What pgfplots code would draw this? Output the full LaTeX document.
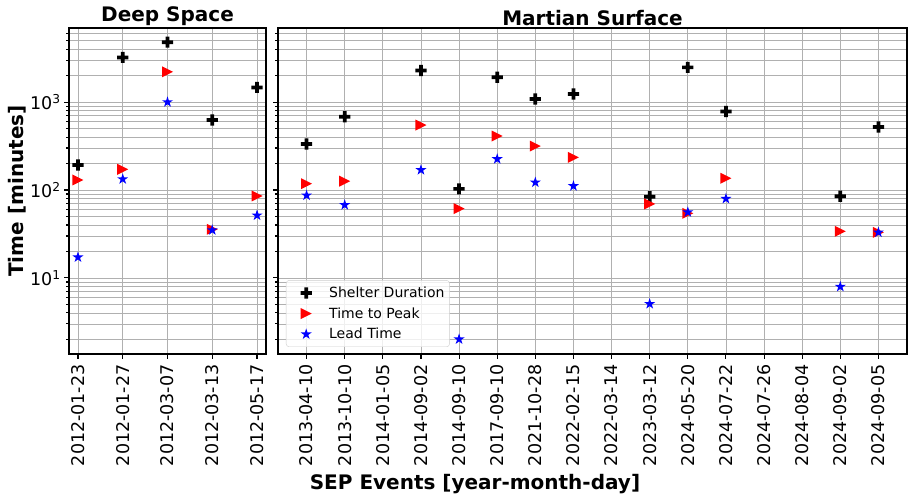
\documentclass[border=0pt]{standalone}
\usepackage{fontspec}
\setmainfont{DejaVu Sans}
\usepackage{pgfplots}
\pgfplotsset{compat=1.18}

\definecolor{gridgray}{RGB}{176,176,176}
\definecolor{legframe}{RGB}{204,204,204}

% filled plus, like matplotlib "P"
\pgfdeclareplotmark{fatplus}{%
  \pgfpathmoveto{\pgfpoint{-\pgfplotmarksize/3}{\pgfplotmarksize}}%
  \pgfpathlineto{\pgfpoint{\pgfplotmarksize/3}{\pgfplotmarksize}}%
  \pgfpathlineto{\pgfpoint{\pgfplotmarksize/3}{\pgfplotmarksize/3}}%
  \pgfpathlineto{\pgfpoint{\pgfplotmarksize}{\pgfplotmarksize/3}}%
  \pgfpathlineto{\pgfpoint{\pgfplotmarksize}{-\pgfplotmarksize/3}}%
  \pgfpathlineto{\pgfpoint{\pgfplotmarksize/3}{-\pgfplotmarksize/3}}%
  \pgfpathlineto{\pgfpoint{\pgfplotmarksize/3}{-\pgfplotmarksize}}%
  \pgfpathlineto{\pgfpoint{-\pgfplotmarksize/3}{-\pgfplotmarksize}}%
  \pgfpathlineto{\pgfpoint{-\pgfplotmarksize/3}{-\pgfplotmarksize/3}}%
  \pgfpathlineto{\pgfpoint{-\pgfplotmarksize}{-\pgfplotmarksize/3}}%
  \pgfpathlineto{\pgfpoint{-\pgfplotmarksize}{\pgfplotmarksize/3}}%
  \pgfpathlineto{\pgfpoint{-\pgfplotmarksize/3}{\pgfplotmarksize/3}}%
  \pgfpathclose\pgfusepathqfill}
% right-pointing triangle, like ">"
\pgfdeclareplotmark{rtri}{%
  \pgfpathmoveto{\pgfpoint{\pgfplotmarksize}{0pt}}%
  \pgfpathlineto{\pgfpoint{-\pgfplotmarksize}{\pgfplotmarksize}}%
  \pgfpathlineto{\pgfpoint{-\pgfplotmarksize}{-\pgfplotmarksize}}%
  \pgfpathclose\pgfusepathqfill}
% filled five-point star
\pgfdeclareplotmark{fstar}{%
  \pgfpathmoveto{\pgfpointpolar{90}{\pgfplotmarksize}}%
  \pgfpathlineto{\pgfpointpolar{126}{0.382*\pgfplotmarksize}}%
  \pgfpathlineto{\pgfpointpolar{162}{\pgfplotmarksize}}%
  \pgfpathlineto{\pgfpointpolar{198}{0.382*\pgfplotmarksize}}%
  \pgfpathlineto{\pgfpointpolar{234}{\pgfplotmarksize}}%
  \pgfpathlineto{\pgfpointpolar{270}{0.382*\pgfplotmarksize}}%
  \pgfpathlineto{\pgfpointpolar{306}{\pgfplotmarksize}}%
  \pgfpathlineto{\pgfpointpolar{342}{0.382*\pgfplotmarksize}}%
  \pgfpathlineto{\pgfpointpolar{18}{\pgfplotmarksize}}%
  \pgfpathlineto{\pgfpointpolar{54}{0.382*\pgfplotmarksize}}%
  \pgfpathclose\pgfusepathqfill}

\pgfplotsset{
  sepax/.style={
    scale only axis, height=326pt,
    ymin=1.365, ymax=6950,
    ytick={10,100,1000},
    minor ytick={2,3,4,5,6,7,8,9,20,30,40,50,60,70,80,90,200,300,400,500,600,700,800,900,2000,3000,4000,5000,6000},
    xtick pos=bottom, ytick pos=left, tick align=outside,
    major tick length=4.9pt, minor tick length=2.8pt,
    every tick/.style={black, line width=1.1pt},
    axis line style={line width=1.1pt},
    xmajorgrids, ymajorgrids, yminorgrids,
    grid style={gridgray, line width=0.8pt},
    minor grid style={gridgray, line width=0.8pt},
    ticklabel style={font=\fontsize{17.5}{20}\selectfont},
    xticklabel style={rotate=90, anchor=east, xshift=-2pt},
    title style={font=\fontsize{20}{24}\selectfont\bfseries, yshift=-7pt},
    legend image code/.code={\path[draw=none, fill=none] (0pt,-5pt) rectangle (38pt,5pt); \draw[##1, opacity=1, fill opacity=1, draw opacity=1] plot coordinates {(17pt,0pt)};},
  },
  shelter/.style={only marks, mark=fatplus, mark size=5.6pt, color=black},
  peak/.style={only marks, mark=rtri, mark size=5.5pt, color=red},
  lead/.style={only marks, mark=fstar, mark size=5.8pt, color=blue},
}

\begin{document}
\begin{tikzpicture}
\useasboundingbox (0,0) rectangle (913pt,-501pt);

\begin{axis}[ymode=log, sepax,
  at={(69pt,-354pt)}, anchor=south west, width=197pt,
  xmin=-0.2, xmax=4.2,
  xtick={0,1,2,3,4},
  xticklabels={2012-01-23,2012-01-27,2012-03-07,2012-03-13,2012-05-17},
  yticklabels={10\textsuperscript{1},10\textsuperscript{2},10\textsuperscript{3}},
  title={Deep Space},
]
\addplot[shelter] coordinates {(0,192)(1,3220)(2,4800)(3,624)(4,1468)};
\addplot[peak] coordinates {(0,130)(1,172)(2,2210)(3,35.7)(4,85.5)};
\addplot[lead] coordinates {(0,17.2)(1,133)(2,1000)(3,35)(4,51.5)};
\end{axis}

\begin{axis}[ymode=log, sepax,
  at={(278pt,-354pt)}, anchor=south west, width=629pt,
  xmin=-0.75, xmax=15.75,
  xtick={0,...,15},
  xticklabels={2013-04-10,2013-10-10,2014-01-05,2014-09-02,2014-09-10,2017-09-10,2021-10-28,2022-02-15,2022-03-14,2023-03-12,2024-05-20,2024-07-22,2024-07-26,2024-08-04,2024-09-02,2024-09-05},
  yticklabels={},
  title={Martian Surface},
  legend style={at={(axis description cs:0.0127,0.0215)}, anchor=south west,
    draw=legframe, fill=white, fill opacity=0.8, text opacity=1, rounded corners=3pt,
    font=\fontsize{14}{16}\selectfont, row sep=4.5pt, inner xsep=3pt, inner ysep=4.5pt},
  legend cell align=left,
]
\addplot[shelter] coordinates {(0,333)(1,681)(3,2290)(4,103)(5,1910)(6,1082)(7,1233)(9,84)(10,2479)(11,783)(14,84.7)(15,520)};
\addlegendentry{Shelter Duration}
\addplot[peak] coordinates {(0,118)(1,126)(3,548)(4,61.4)(5,411)(6,316)(7,235)(9,69.4)(10,54.3)(11,136)(14,33.9)(15,33)};
\addlegendentry{Time to Peak}
\addplot[lead] coordinates {(0,87)(1,67.6)(3,169)(4,2.01)(5,225)(6,122)(7,111)(9,5.07)(10,56)(11,79.6)(14,7.96)(15,33)};
\addlegendentry{Lead Time}
\end{axis}

\node[rotate=90, font=\fontsize{20}{24}\selectfont\bfseries] at (17pt,-191pt) {Time [minutes]};
\node[font=\fontsize{20}{24}\selectfont\bfseries] at (475pt,-484pt) {SEP Events [year-month-day]};
\end{tikzpicture}
\end{document}
